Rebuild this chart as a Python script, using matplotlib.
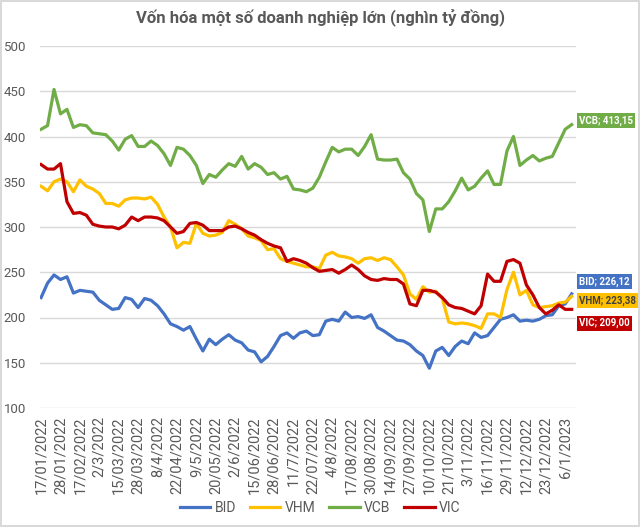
import matplotlib.pyplot as plt
import numpy as np

plt.rcParams['font.family'] = ['Roboto', 'DejaVu Sans']

# trading-day labels on the category axis, one every 9 sessions
dates = ['17/01/2022', '28/01/2022', '17/02/2022', '2/3/2022', '15/03/2022',
         '28/03/2022', '8/4/2022', '22/04/2022', '9/5/2022', '20/05/2022',
         '2/6/2022', '15/06/2022', '28/06/2022', '11/7/2022', '22/07/2022',
         '4/8/2022', '17/08/2022', '30/08/2022', '14/09/2022', '27/09/2022',
         '10/10/2022', '21/10/2022', '3/11/2022', '16/11/2022', '29/11/2022',
         '12/12/2022', '23/12/2022', '6/1/2023']
label_every = 9
sample_every = 3  # values below are read every 3 sessions

bid = [222, 238, 247, 242, 245, 227, 230, 229, 228, 219, 214, 209, 210, 222, 220,
       211, 221, 219, 213, 204, 193, 190, 186, 190, 176, 163, 176, 170, 176, 181,
       175, 172, 164, 162, 151, 157, 168, 180, 183, 177, 183, 185, 180, 181, 196,
       198, 196, 206, 200, 201, 199, 203, 189, 185, 180, 175, 174, 170, 163, 158,
       144, 163, 167, 158, 168, 174, 171, 183, 178, 180, 189, 198, 200, 203, 196,
       197, 196, 198, 202, 203, 213, 215, 226.12]
vhm = [345, 340, 350, 353, 350, 339, 352, 345, 342, 337, 326, 326, 323, 330, 332,
       332, 331, 333, 325, 311, 300, 277, 283, 282, 304, 293, 290, 291, 294, 307,
       303, 298, 290, 288, 285, 275, 276, 265, 262, 260, 258, 256, 256, 254, 269,
       272, 268, 267, 265, 260, 265, 266, 263, 266, 264, 256, 247, 226, 220, 234,
       228, 229, 221, 195, 193, 194, 193, 191, 188, 204, 204, 200, 231, 250, 225,
       230, 214, 211, 212, 213, 216, 217, 223.38]
vcb = [408, 412, 452, 425, 430, 410, 413, 412, 404, 403, 402, 395, 385, 397, 401,
       389, 389, 395, 390, 381, 368, 388, 386, 379, 368, 348, 358, 355, 363, 370,
       367, 378, 364, 370, 366, 358, 360, 353, 356, 342, 341, 339, 343, 355, 372,
       388, 383, 386, 386, 379, 389, 402, 375, 374, 374, 375, 360, 353, 337, 330,
       295, 320, 320, 328, 340, 354, 341, 345, 354, 362, 347, 347, 384, 400, 368,
       374, 379, 373, 376, 378, 393, 408, 413.15]
vic = [369, 364, 364, 370, 328, 315, 316, 313, 303, 301, 300, 300, 298, 302, 311,
       307, 311, 311, 310, 307, 300, 293, 295, 304, 305, 302, 296, 296, 296, 300,
       301, 298, 294, 291, 286, 282, 279, 277, 262, 265, 263, 260, 255, 251, 252,
       253, 249, 253, 258, 253, 246, 242, 241, 243, 242, 242, 237, 215, 213, 230,
       230, 228, 222, 214, 211, 210, 207, 204, 213, 248, 240, 240, 262, 264, 260,
       236, 225, 211, 204, 208, 214, 209, 209.00]

series = [('BID', bid, '#4472C4'), ('VHM', vhm, '#FFC000'),
          ('VCB', vcb, '#70AD47'), ('VIC', vic, '#C00000')]
# end-label nudges (points) so the boxes do not overlap
label_shift = {'BID': 9, 'VHM': -3, 'VCB': 3, 'VIC': -10}
label_text_color = {'BID': 'white', 'VHM': '#404040', 'VCB': 'white', 'VIC': 'white'}

grey = '#595959'

fig = plt.figure(figsize=(6.4, 5.27), dpi=100)
fig.patch.set_edgecolor('#D9D9D9')
fig.patch.set_linewidth(1.5)
ax = fig.add_axes([40 / 640, 1 - 408 / 527, 536 / 640, 362 / 527])

for name, vals, col in series:
    x = np.arange(len(vals)) * sample_every
    ax.plot(x, vals, color=col, lw=2.3, label=name, solid_joinstyle='round')
    txt = '%s; %s' % (name, ('%.2f' % vals[-1]).replace('.', ','))
    ax.annotate(txt, xy=(1.006, vals[-1]), xycoords=('axes fraction', 'data'),
                xytext=(0, label_shift[name]), textcoords='offset points',
                ha='left', va='center', fontsize=7, fontweight='bold',
                color=label_text_color[name], annotation_clip=False,
                bbox=dict(boxstyle='square,pad=0.22', fc=col, ec='none'))

ax.set_ylim(100, 500)
ax.set_yticks(np.arange(100, 501, 50))
ax.set_xlim(-0.5, 248)
ax.set_xticks(np.arange(len(dates)) * label_every)
ax.set_xticklabels(dates, rotation=90)
ax.tick_params(length=0, colors=grey)
ax.tick_params(axis='y', labelsize=9.5, pad=10)
ax.tick_params(axis='x', labelsize=10.5, pad=6)
ax.grid(axis='y', color='#D9D9D9', lw=1)
ax.set_axisbelow(True)
for s in ax.spines.values():
    s.set_visible(False)

fig.suptitle('Vốn hóa một số doanh nghiệp lớn (nghìn tỷ đồng)', x=0.5, y=0.985,
             fontsize=12, fontweight='bold', color=grey)

leg = fig.legend(loc='center', bbox_to_anchor=(0.5, 1 - 508 / 527), ncol=4,
                 frameon=False, fontsize=10, handlelength=2.2, columnspacing=1.0,
                 handletextpad=0.3)
for t in leg.get_texts():
    t.set_color(grey)

fig.savefig('out.png', dpi=100)
